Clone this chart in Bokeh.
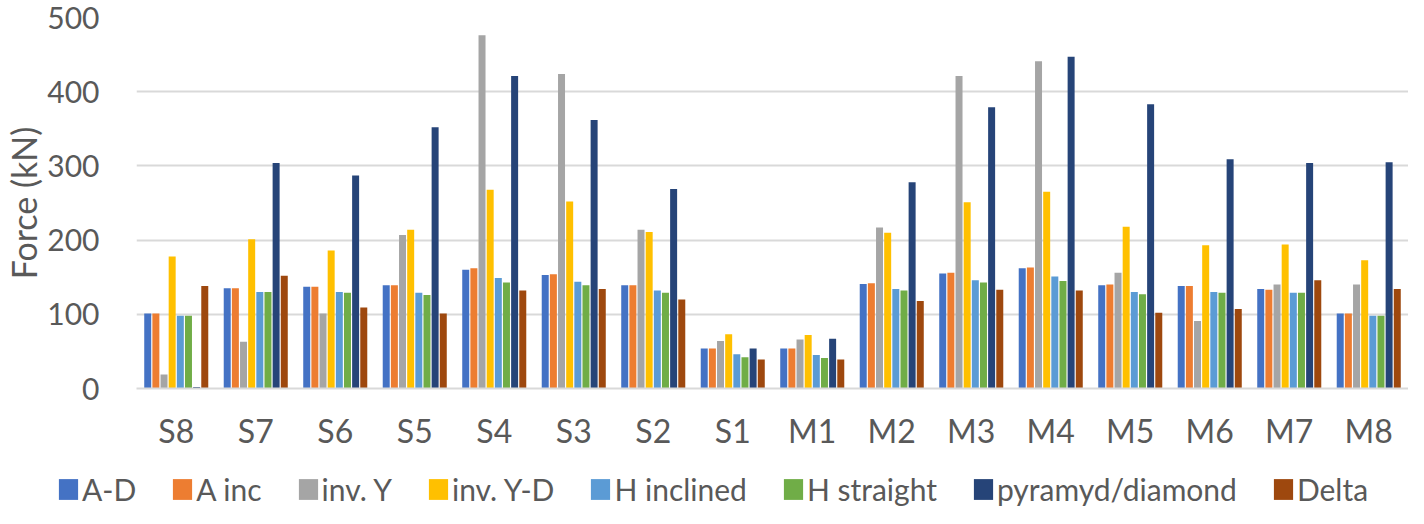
from bokeh.plotting import figure
from bokeh.models import FactorRange, Range1d, Legend, LegendItem, ColumnDataSource, FixedTicker
from bokeh.layouts import column
from bokeh.transform import dodge
from bokeh.embed import file_html
from bokeh.resources import INLINE

categories = ["S8", "S7", "S6", "S5", "S4", "S3", "S2", "S1",
              "M1", "M2", "M3", "M4", "M5", "M6", "M7", "M8"]

series_names = ["A-D", "A inc", "inv. Y", "inv. Y-D", "H inclined",
                "H straight", "pyramyd/diamond", "Delta"]

a_d = [101, 135, 137, 139, 160, 153, 139, 54, 54, 141, 155, 162, 139, 138, 134, 101]
a_inc = [101, 135, 137, 139, 162, 154, 139, 54, 54, 142, 156, 163, 140, 138, 133, 101]
inv_y = [19, 63, 101, 207, 476, 424, 214, 64, 66, 217, 421, 441, 156, 91, 140, 140]
inv_y_d = [178, 201, 186, 214, 268, 252, 211, 73, 72, 210, 251, 265, 218, 193, 194, 173]
h_inclined = [98, 130, 130, 129, 149, 144, 132, 46, 45, 134, 146, 151, 130, 130, 129, 98]
h_straight = [98, 130, 129, 126, 143, 139, 129, 42, 41, 132, 143, 145, 127, 129, 129, 98]
pyramyd = [2, 304, 287, 352, 421, 362, 269, 54, 67, 278, 379, 447, 383, 309, 304, 305]
delta = [138, 152, 109, 101, 132, 134, 120, 39, 39, 118, 133, 132, 102, 107, 146, 134]

colors = ["#4472C4", "#ED7D31", "#A5A5A5", "#FFC000", "#5B9BD5",
          "#70AD47", "#264478", "#9E480E"]

y_ticks = [0, 100, 200, 300, 400, 500]

all_series = [a_d, a_inc, inv_y, inv_y_d, h_inclined, h_straight, pyramyd, delta]
keys = ["s%d" % i for i in range(len(all_series))]
data = {"cat": categories}
for k, s in zip(keys, all_series):
    data[k] = s
src = ColumnDataSource(data)

TEXT = "#595959"
FONT = "Lato"
GRID = "#D9D9D9"

W = 1408
H_MAIN = 466
H_LEG = 42

p = figure(x_range=FactorRange(*categories, range_padding=0), y_range=Range1d(0, 500),
           width=W, height=H_MAIN, output_backend="svg", toolbar_location=None,
           min_border_left=130, min_border_right=0, min_border_top=17, min_border_bottom=78)
p.outline_line_color = None

pitch = 0.1025
renderers = []
for i, (k, c) in enumerate(zip(keys, colors)):
    off = (i - 3.5) * pitch
    r = p.vbar(x=dodge("cat", off, range=p.x_range), top=k, width=0.088, source=src,
               fill_color=c, line_color=None)
    renderers.append(r)

# axes
p.yaxis.ticker = FixedTicker(ticks=y_ticks)
p.yaxis.axis_line_color = None
p.yaxis.major_tick_line_color = None
p.yaxis.minor_tick_line_color = None
p.yaxis.major_label_standoff = 31
p.yaxis.major_label_text_font = FONT
p.yaxis.major_label_text_font_size = "30px"
p.yaxis.major_label_text_color = TEXT
p.yaxis.axis_label = "Force (kN)"
p.yaxis.axis_label_text_font = FONT
p.yaxis.axis_label_text_font_size = "34px"
p.yaxis.axis_label_text_font_style = "normal"
p.yaxis.axis_label_text_color = TEXT
p.yaxis.axis_label_standoff = 0

p.xaxis.axis_line_color = GRID
p.xaxis.axis_line_width = 2
p.xaxis.major_tick_line_color = None
p.xaxis.minor_tick_line_color = None
p.xaxis.major_label_standoff = 16
p.xaxis.major_label_text_font = FONT
p.xaxis.major_label_text_font_size = "32px"
p.xaxis.major_label_text_color = TEXT

p.xgrid.grid_line_color = None
p.ygrid.grid_line_color = GRID
p.ygrid.grid_line_width = 2

# legend strip below the chart
lg = figure(width=W, height=H_LEG, output_backend="svg", toolbar_location=None,
            x_range=Range1d(0, 1), y_range=Range1d(0, 1),
            x_axis_location=None, y_axis_location=None,
            min_border_left=0, min_border_right=0, min_border_top=0, min_border_bottom=0)
if "frame_align" in lg.properties():
    lg.frame_align = False
    p.frame_align = False
lg.outline_line_color = None
lg.grid.grid_line_color = None
dummy = []
for c in colors:
    # swatch renderers for the legend, placed outside the visible range
    dummy.append(lg.vbar(x=[-10], top=[-10], width=0.1, fill_color=c, line_color=None))

legend = Legend(items=[LegendItem(label=n, renderers=[r]) for n, r in zip(series_names, dummy)],
                orientation="horizontal", location=(56, 1),
                glyph_width=24, glyph_height=26, label_standoff=2, spacing=34,
                label_text_font=FONT, label_text_font_size="30px", label_text_color=TEXT,
                border_line_color=None, background_fill_alpha=0, padding=0, margin=0)
lg.add_layout(legend, "center")

layout = column(p, lg, spacing=0)
open("out.html", "w").write(file_html(layout, INLINE))
